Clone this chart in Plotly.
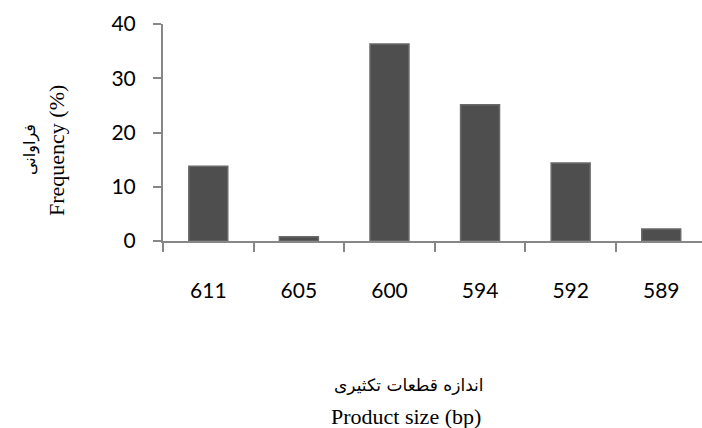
import plotly.graph_objects as go

categories = ["611", "605", "600", "594", "592", "589"]
frequency = [13.8, 0.8, 36.3, 25.1, 14.4, 2.2]
y_ticks = [0, 10, 20, 30, 40]

W, H = 702, 428
L, T, B, R = 163, 24, 187, 0
pw = W - L - R
ph = H - T - B

def px(x):
    return (x - L) / pw

def py(y):
    return (H - B - y) / ph

fig = go.Figure()
fig.add_trace(go.Bar(
    x=categories, y=frequency, width=0.43,
    marker=dict(color="#4e4e4e", line=dict(color="#6a6a6a", width=1.5)),
))

axis_col = "#878787"
fig.update_layout(
    width=W, height=H,
    margin=dict(l=L, r=R, t=T, b=B, pad=0),
    paper_bgcolor="white", plot_bgcolor="white",
    showlegend=False,
    bargap=0.57,
    xaxis=dict(
        type="category", range=[-0.5, 5.45],
        showline=True, linecolor=axis_col, linewidth=2,
        ticks="outside", tickson="boundaries", ticklen=9, tickwidth=2, tickcolor=axis_col,
        showgrid=False, zeroline=False,
        tickfont=dict(family="Lato", size=21, color="black"),
        ticklabelstandoff=30,
    ),
    yaxis=dict(
        range=[0, 40], tickvals=y_ticks,
        showline=True, linecolor=axis_col, linewidth=2,
        ticks="outside", ticklen=8, tickwidth=2, tickcolor=axis_col,
        showgrid=False, zeroline=False,
        tickfont=dict(family="Lato", size=21, color="black"),
        ticklabelstandoff=13,
    ),
)

ann = [
    dict(text="Frequency (%)", x=px(56), y=py(151), textangle=-90,
         font=dict(family="Liberation Serif", size=22, color="black")),
    dict(text="فراوانی", x=px(30), y=py(150), textangle=-90,
         font=dict(family="DejaVu Sans", size=16, color="black")),
    dict(text="اندازه قطعات تکثیری", x=px(409), y=py(385),
         font=dict(family="DejaVu Sans", size=17, color="black")),
    dict(text="Product size (bp)", x=px(406), y=py(416),
         font=dict(family="Liberation Serif", size=22, color="black")),
]
for a in ann:
    a.update(xref="paper", yref="paper", showarrow=False, xanchor="center", yanchor="middle")
    fig.add_annotation(**a)

fig.write_html("out.html", config={"displayModeBar": False},
               post_script="document.body.style.margin='0';")
